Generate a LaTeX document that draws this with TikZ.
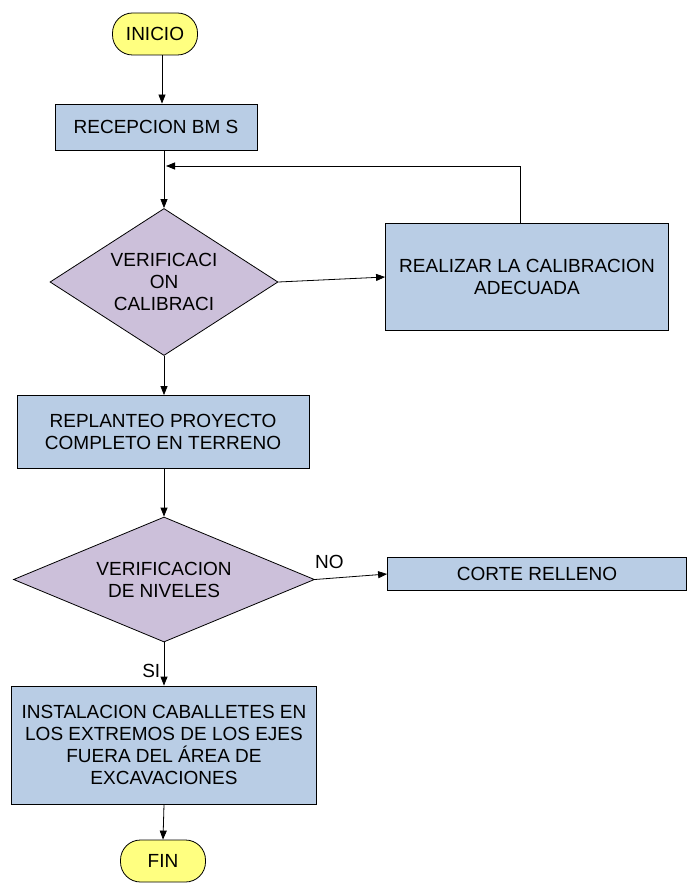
\documentclass[tikz,border=0pt]{standalone}
\usepackage{fontspec}
\setmainfont{Liberation Sans}
\usetikzlibrary{shapes.geometric,arrows.meta}
\definecolor{cajaazul}{RGB}{185,205,229}
\definecolor{rombolila}{RGB}{204,192,218}
\definecolor{terminal}{RGB}{255,255,128}

\begin{document}
\begin{tikzpicture}[x=1pt,y=-1pt,
    every node/.style={font=\fontsize{19}{22}\selectfont, align=center},
    caja/.style={draw, thick, fill=cajaazul, inner sep=2pt},
    rombo/.style={draw, thick, diamond, fill=rombolila, inner sep=0pt},
    extremo/.style={draw, thick, fill=terminal, rounded corners=20pt, minimum width=85pt, minimum height=42pt},
    flecha/.style={thick, -{Triangle[length=9pt,width=7pt]}}]
    \useasboundingbox (0,0) rectangle (687,885);

    % Inicio y recepcion
    \node[extremo] (inicio) at (155,34) {INICIO};
    \node[caja, minimum width=202pt, minimum height=46pt] (recep) at (156,127) {RECEPCION BM S};
    \draw[flecha] (inicio.south -| 162,0) -- (recep.north -| 162,0);

    % Verificacion calibracion
    \node[rombo, aspect=1.55, minimum width=228pt, minimum height=147pt] (verif) at (164,282) {VERIFICACI\\ON\\CALIBRACI};
    \node[caja, minimum width=283pt, minimum height=107pt] (calib) at (527,277) {REALIZAR LA CALIBRACION\\ADECUADA};
    \coordinate (regreso) at (166,166);
    \draw[flecha] (recep.south -| verif) -- (verif.north);
    \draw[flecha] (verif.east) -- (calib.west);
    \draw[flecha] ([xshift=-7pt]calib.north) |- (regreso);

    % Replanteo
    \node[caja, minimum width=292pt, minimum height=73pt] (replanteo) at (163,432) {REPLANTEO PROYECTO\\COMPLETO EN TERRENO};
    \draw[flecha] (verif.south) -- (replanteo.north -| verif);

    % Verificacion de niveles
    \node[rombo, aspect=2.4, minimum width=301pt, minimum height=125pt] (nivel) at (164,579.5) {VERIFICACION\\DE NIVELES};
    \node[caja, minimum width=299pt, minimum height=33pt] (corte) at (537,574) {CORTE RELLENO};
    \draw[flecha] (replanteo.south -| nivel) -- (nivel.north);
    \draw[flecha] (nivel.east) -- node[above=6pt, pos=0.2] {NO} (corte.west);

    % Instalacion y fin
    \node[caja, minimum width=305pt, minimum height=118pt] (instal) at (164,745) {INSTALACION CABALLETES EN\\LOS EXTREMOS DE LOS EJES\\FUERA DEL ÁREA DE\\EXCAVACIONES};
    \node[extremo] (fin) at (163,861) {FIN};
    \draw[flecha] (nivel.south) -- node[left, pos=0.65] {SI} (instal.north -| nivel);
    \draw[flecha] (instal.south) -- (fin.north);
\end{tikzpicture}
\end{document}
